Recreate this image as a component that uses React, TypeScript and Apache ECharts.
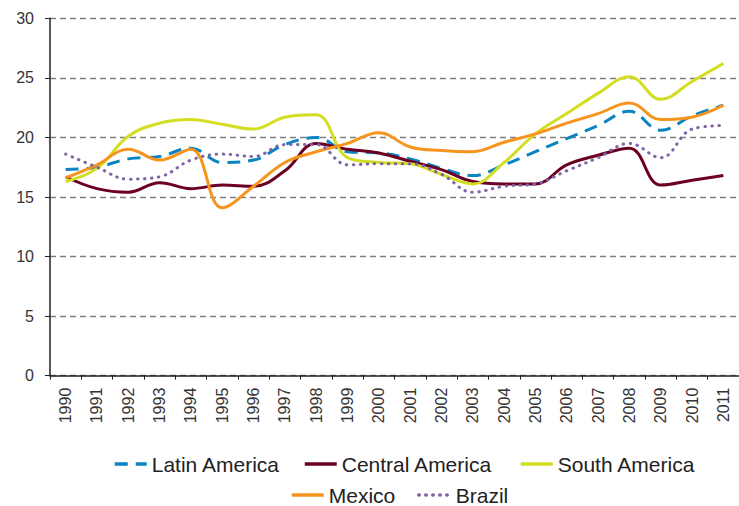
import React, { useEffect, useRef } from "react";
import * as echarts from "echarts";

const years = ["1990","1991","1992","1993","1994","1995","1996","1997","1998","1999","2000","2001","2002","2003","2004","2005","2006","2007","2008","2009","2010","2011"];

const latinAmerica = [17.3, 17.5, 18.2, 18.4, 19.1, 17.9, 18.1, 19.4, 20.0, 18.8, 18.7, 18.2, 17.4, 16.8, 17.7, 18.8, 19.9, 21.0, 22.2, 20.6, 21.8, 22.7];
const centralAmerica = [16.7, 15.7, 15.4, 16.2, 15.7, 16.0, 15.9, 17.2, 19.5, 19.0, 18.7, 18.0, 17.3, 16.3, 16.1, 16.1, 17.7, 18.5, 19.1, 16.0, 16.4, 16.8];
const southAmerica = [16.3, 17.4, 20.1, 21.2, 21.5, 21.1, 20.7, 21.7, 21.9, 18.3, 17.9, 17.8, 16.9, 16.1, 17.9, 20.3, 22.0, 23.7, 25.1, 23.2, 24.7, 26.2];
const mexico = [16.6, 17.7, 19.0, 18.1, 19.0, 14.1, 15.9, 17.9, 18.8, 19.5, 20.4, 19.2, 18.9, 18.8, 19.6, 20.3, 21.2, 22.0, 22.9, 21.5, 21.7, 22.7];
const brazil = [18.6, 17.5, 16.5, 16.7, 18.1, 18.6, 18.4, 19.4, 19.4, 17.7, 17.8, 17.8, 16.9, 15.4, 15.9, 16.1, 17.2, 18.3, 19.5, 18.3, 20.7, 21.0];

const yTicks = [0, 5, 10, 15, 20, 25, 30];

const seriesDefs = [
  { name: "Latin America", data: latinAmerica, color: "#0a84c1", type: [13, 8] as any, cap: "butt" },
  { name: "Central America", data: centralAmerica, color: "#6c0024", type: "solid" as any, cap: "butt" },
  { name: "South America", data: southAmerica, color: "#d3de22", type: "solid" as any, cap: "butt" },
  { name: "Mexico", data: mexico, color: "#f7941d", type: "solid" as any, cap: "butt" },
  { name: "Brazil", data: brazil, color: "#7e63a6", type: [0.5, 6.5] as any, cap: "round" },
];

const legendPos = [
  { left: 113, top: 453.5 },
  { left: 303, top: 453.5 },
  { left: 519, top: 453.5 },
  { left: 290, top: 484.5 },
  { left: 417, top: 484.5 },
];

const FONT = "'Liberation Sans', Arial, sans-serif";

export default function App() {
  const ref = useRef<HTMLDivElement>(null);
  useEffect(() => {
    if (!ref.current) return;
    const chart = echarts.init(ref.current, undefined, { renderer: "svg" });
    chart.setOption({
      animation: false,
      backgroundColor: "#ffffff",
      textStyle: { fontFamily: FONT },
      grid: { left: 50, right: -11.7, top: 18.3, bottom: 130.3, containLabel: false },
      legend: seriesDefs.map((s, i) => ({
        data: [s.name],
        left: legendPos[i].left,
        top: legendPos[i].top,
        padding: 0,
        itemWidth: 32,
        itemHeight: 14,
        itemStyle: { opacity: 0 },
        lineStyle: { width: 3.5 },
        textStyle: { fontSize: 21, color: "#222", fontFamily: FONT },
      })),
      xAxis: {
        type: "category",
        data: years,
        boundaryGap: true,
        axisLine: { show: true, lineStyle: { color: "#222", width: 1.5 } },
        axisTick: { show: true, length: 4, alignWithLabel: false, lineStyle: { color: "#222", width: 1 } },
        axisLabel: { rotate: 90, interval: 0, fontSize: 16, color: "#333", margin: 12, fontFamily: FONT },
        splitLine: { show: false },
      },
      yAxis: {
        type: "value",
        min: yTicks[0],
        max: yTicks[yTicks.length - 1],
        interval: 5,
        axisLine: { show: true, lineStyle: { color: "#222", width: 1.5 } },
        axisTick: { show: true, length: 5, lineStyle: { color: "#222", width: 1 } },
        axisLabel: { fontSize: 16, color: "#333", margin: 16, fontFamily: FONT },
        splitLine: { show: true, lineStyle: { color: "#7f7f7f", width: 1.3, type: [6, 4] } },
      },
      series: seriesDefs.map((s) => ({
        name: s.name,
        type: "line",
        data: s.data,
        smooth: 0.4,
        symbol: "none",
        showSymbol: false,
        color: s.color,
        lineStyle: { color: s.color, width: 3, type: s.type, cap: s.cap },
      })),
    });
    return () => chart.dispose();
  }, []);
  return (
    <div
      ref={ref}
      style={{ position: "absolute", left: 0, top: 0, width: 739, height: 506, background: "#fff" }}
    />
  );
}
